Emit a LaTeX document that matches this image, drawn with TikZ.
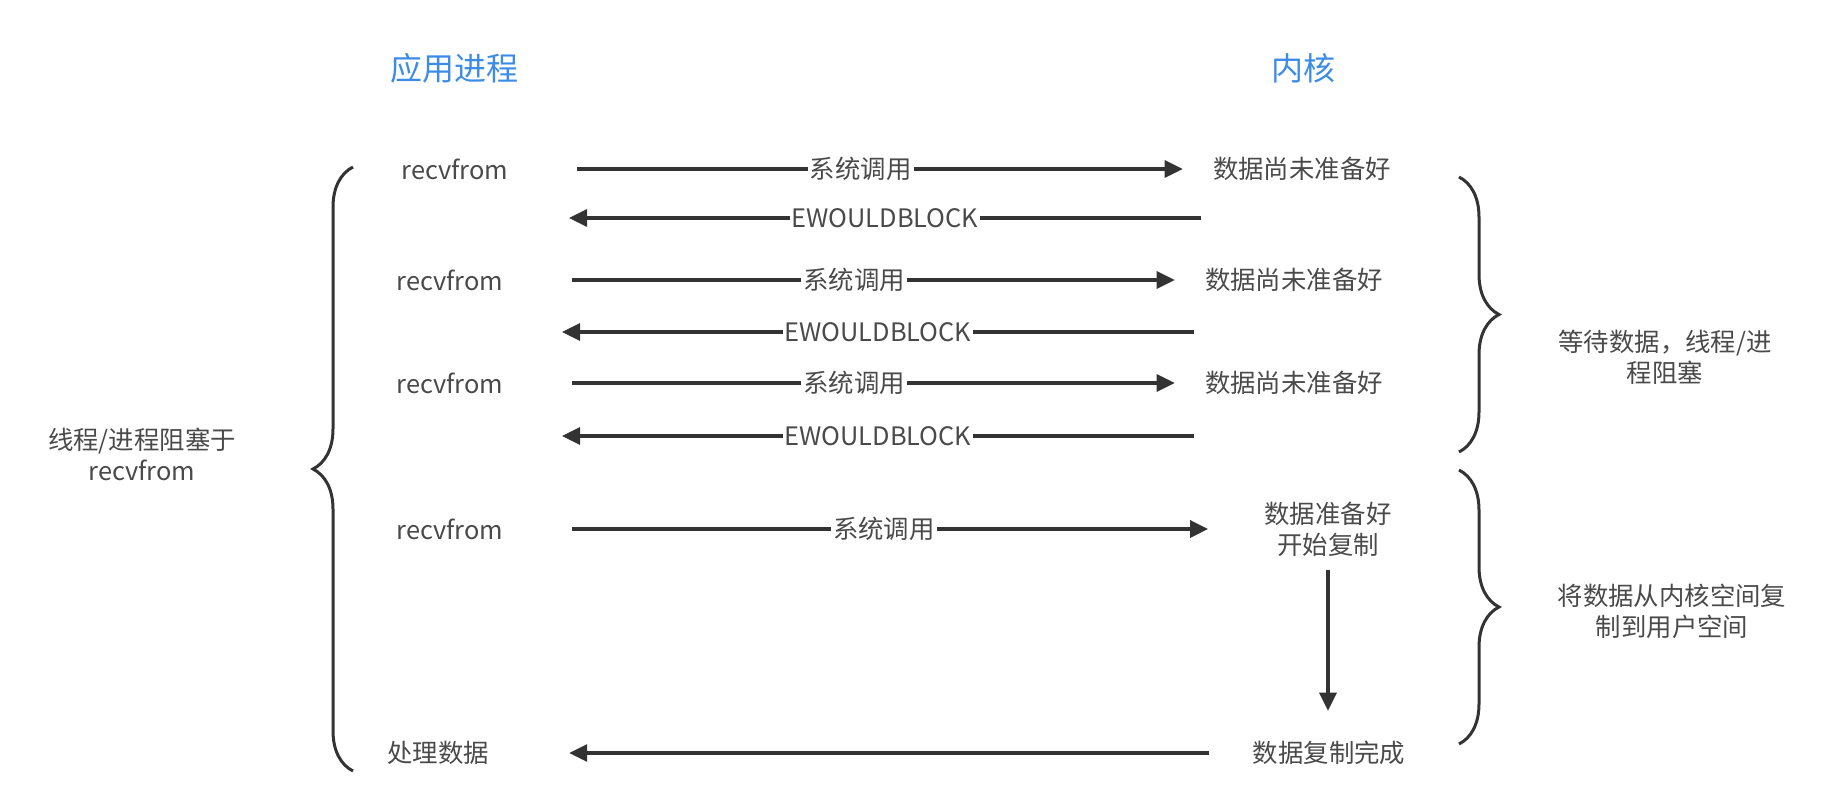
\documentclass[tikz,border=0pt]{standalone}
\usepackage{fontspec}
\setmainfont{Noto Sans CJK SC}
\usetikzlibrary{arrows.meta,decorations.pathreplacing}
\definecolor{Ink}{HTML}{333333}
\definecolor{Label}{HTML}{4A4A4A}
\definecolor{Head}{HTML}{3C8CE7}

\begin{document}
\begin{tikzpicture}[
      x=0.5pt,y=-0.5pt,
      head/.style={text=Head,font=\fontsize{16}{19}\selectfont},
      item/.style={text=Label,align=center,inner sep=0pt,
        font=\fontsize{12.7}{15.5}\selectfont},
      tag/.style={midway,fill=white,inner sep=1pt,text=Label,
        font=\fontsize{12.7}{15.5}\selectfont},
      arrow/.style={-{Triangle[length=9pt,width=8.5pt]},line width=1.6pt,color=Ink},
      call/.style={arrow,shorten <=34pt,shorten >=15pt},
      curly/.style={decorate,decoration={brace,amplitude=20pt},line width=1.5pt,color=Ink}
    ]
      \useasboundingbox (0,0) rectangle (1832,800);
      % column heads
      \node[head] (app) at (454,68) {应用进程};
      \node[head] (kernel) at (1303,68) {内核};
      % application side
      \node[item] (r1) at (455,169) {recvfrom};
      \node[item] (r2) at (450,280) {recvfrom};
      \node[item] (r3) at (450,383) {recvfrom};
      \node[item] (r4) at (450,529) {recvfrom};
      \node[item] (r5) at (438,753) {处理数据};
      % kernel side
      \node[item] (k1) at (1302,169) {数据尚未准备好};
      \node[item] (k2) at (1294,280) {数据尚未准备好};
      \node[item] (k3) at (1294,383) {数据尚未准备好};
      \node[item] (k4) at (1328,529) {数据准备好\\开始复制};
      \node[item] (k5) at (1329,753) {数据复制完成};
      % side notes
      \node[item] (block) at (142,454) {线程/进程阻塞于\\recvfrom};
      \node[item] (wait) at (1665,357) {等待数据，线程/进\\程阻塞};
      \node[item] (copy) at (1672,611) {将数据从内核空间复\\制到用户空间};
      % return points
      \coordinate (kb1) at (1201,218);
      \coordinate (ab1) at (569,218);
      \coordinate (kb2) at (1194,332);
      \coordinate (ab2) at (562,332);
      \coordinate (kb3) at (1194,436);
      \coordinate (ab3) at (562,436);
      % calls and replies
      \draw[call] (r1) -- node[tag] {系统调用} (k1);
      \draw[arrow] (kb1) -- node[tag] {EWOULDBLOCK} (ab1);
      \draw[call] (r2) -- node[tag] {系统调用} (k2);
      \draw[arrow] (kb2) -- node[tag] {EWOULDBLOCK} (ab2);
      \draw[call] (r3) -- node[tag] {系统调用} (k3);
      \draw[arrow] (kb3) -- node[tag] {EWOULDBLOCK} (ab3);
      \draw[call,shorten >=28pt] (r4) -- node[tag] {系统调用} (k4);
      \draw[arrow,shorten <=6.5pt,shorten >=15pt] (k4.south) -- (k4.south |- k5.north);
      \draw[arrow,shorten <=21.5pt,shorten >=40pt] (k5) -- (r5);
      % braces
      \draw[curly] (353,771) -- (353,167);
      \draw[curly] (1459,177) -- (1459,452);
      \draw[curly] (1459,470) -- (1459,744);
    \end{tikzpicture}
\end{document}
